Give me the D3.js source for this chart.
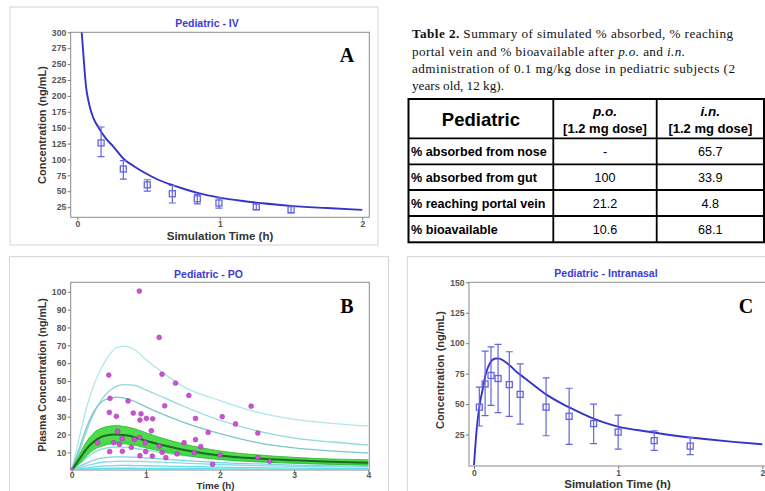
<!DOCTYPE html>
<html><head><meta charset="utf-8">
<script src="https://cdn.jsdelivr.net/npm/d3@7"></script>
<style>html,body{margin:0;padding:0;background:#fff;}svg{display:block}</style>
</head><body>
<svg id="c" width="765" height="491"></svg>
<script>
// ---------- Panel A: Pediatric IV ----------
const ivCurveT = [0.031,0.042,0.061,0.082,0.113,0.15,0.2,0.25,0.33,0.4,0.47,0.55,0.65,0.75,0.85,1.0,1.15,1.3,1.5,1.75,2.0];
const ivCurveV = [300,267,215,188,165,150,133,121,100,89,79.5,70,61,53.5,47,40,35,31,27,23.5,20.7];
const ivObsT = [0.167,0.323,0.491,0.667,0.842,0.994,1.256,1.5];
const ivObsMean = [126,85,60,46,38,31.5,25.5,21];
const ivObsLo = [104.5,69,50,31.5,30,23.5,21,16];
const ivObsHi = [151,98,68,59,45,39.5,30,26];
const ivYTicks = [25,50,75,100,125,150,175,200,225,250,275,300];
const ivXTicks = [0,1,2];

// ---------- Panel B: Pediatric PO ----------
const poTimes = [0,0.1,0.2,0.3,0.45,0.6,0.7,0.85,1.0,1.25,1.5,2.0,2.5,3.0,3.5,4.0];
const poInd1 = [0,18,35,48,61,68.5,69.5,67.5,62,54,47,39,32.5,28.5,26.3,24.8];
const poInd2 = [0,10,22,32,42,47,48,47.5,45,40.5,36,28,22,18,15.8,14.1];
const poInd3 = [0,12,24,33,39.5,41,40.5,38.5,35.5,31,27,20.5,15.5,12.5,10.8,9.6];
const poInd4 = [0,5,10,13.5,15.5,16,15.8,15,13.5,11.5,9.8,7.3,5.8,4.8,4.1,3.6];
const poInd5 = [0,3.5,7,10,12.3,13,12.9,12.3,11.2,9.6,8.2,6.1,4.8,4,3.4,3];
const poInd6 = [0,2,4,5.6,7,7.5,7.5,7.3,6.9,6.2,5.5,4.3,3.5,2.9,2.5,2.2];
const poInd7 = [0,1.2,2.5,3.6,4.6,5,5.1,5,4.8,4.4,4,3.2,2.6,2.2,1.9,1.7];
const poInd8 = [0,0.6,1.3,1.9,2.4,2.6,2.7,2.6,2.5,2.3,2.1,1.7,1.4,1.2,1.0,0.9];
const poInd9 = [0,0.3,0.6,0.8,1.0,1.1,1.1,1.1,1.0,0.95,0.9,0.75,0.6,0.5,0.45,0.4];
const poMean = [0,6,12,16,19.3,20,19.7,18.5,16.5,13.8,11.5,8.3,6.6,5.6,4.8,4.2];
const poUpper = [0,8.5,16,21,24.2,25,24.6,23.2,21,17.6,14.8,10.8,8.6,7.2,6.3,5.8];
const poLower = [0,3.5,8,11.5,14,15,14.8,14,12.5,10.3,8.5,6,4.7,3.9,3.3,2.8];
const poObsT = [0,0.912,1.18,0.5,1.218,1.40,0.517,1.58,0.76,1.254,2.42,0.508,0.602,0.83,0.935,1.007,1.092,0.92,1.67,2.03,2.21,1.074,0.62,2.51,1.84,0.68,0.845,0.917,1.67,0.35,0.566,0.643,0.99,1.515,1.74,1.18,0.804,0.512,0.683,0.998,1.22,1.42,1.654,0.92,1.087,1.27,2.0,2.51,2.67,1.9];
const poObsV = [0,100.4,74.4,53.3,53.8,48.8,40.3,41.9,38.8,36.1,35.9,32.4,30.2,32,31.6,29,28.8,28.1,29,30,25.9,22.1,21.9,20.8,21.2,17.7,17.3,18.4,17.1,15.4,15.4,14.5,15.4,15.4,13.2,13.5,12.8,10.4,10.6,10.4,10,9.1,9.8,8.1,7.9,7,8.5,7,5,3.3];
const poYTicks = [10,20,30,40,50,60,70,80,90,100];
const poXTicks = [0,1,2,3,4];

// ---------- Panel C: Pediatric Intranasal ----------
const inCurveT = [0,0.02,0.04,0.06,0.08,0.1,0.125,0.15,0.175,0.2,0.25,0.3,0.35,0.4,0.5,0.6,0.7,0.8,0.9,1.0,1.2,1.4,1.6,1.8,2.0];
const inCurveV = [0,31,50,62,74,81,86,87.5,87.3,86,81.5,76,71.5,67,58,51,45,39.5,35,31.5,27.5,24,21.3,19,17];
const inObsT = [0.037,0.077,0.118,0.167,0.245,0.32,0.5,0.66,0.83,1.0,1.25,1.5];
const inObsMean = [47.5,66.5,73.5,71,66,58,47.5,40,34,27,20,15.5];
const inObsLo = [32,40.5,49,43,40,33.5,24,17,17.5,13,12,8.5];
const inObsHi = [64,93.5,97,99,93,83,71.5,63,50,41,28,22.5];
const inYTicks = [25,50,75,100,125,150];
const inXTicks = [0,1,2];

// ---------- Table ----------
const tableRowLabels = ["% absorbed from nose","% absorbed from gut","% reaching portal vein","% bioavailable"];
const tablePO = ["-","100","21.2","10.6"];
const tableIN = ["65.7","33.9","4.8","68.1"];

const SANS = "'Liberation Sans', Arial, sans-serif";
const SERIF = "'Liberation Serif', 'Times New Roman', serif";
const svg = d3.select("#c");
svg.append("rect").attr("width",765).attr("height",491).attr("fill","#fff");

const defs = svg.append("defs");

// panel boxes
[[10,7,368,238],[9.5,256.7,379,240],[407.3,256.7,365,240]].forEach(b=>{
  svg.append("rect").attr("x",b[0]).attr("y",b[1]).attr("width",b[2]).attr("height",b[3])
    .attr("fill","#fff").attr("stroke","#d4d4d4").attr("stroke-width",1);
});

function panel(opt){
  const g = svg.append("g");
  const f = opt.frame; // [l,t,r,b]
  const id = "clip"+opt.key;
  defs.append("clipPath").attr("id",id).append("rect")
    .attr("x",f[0]).attr("y",f[1]).attr("width",f[2]-f[0]).attr("height",f[3]-f[1]);
  const x = d3.scaleLinear().domain(opt.xd).range(opt.xr);
  const y = d3.scaleLinear().domain(opt.yd).range(opt.yr);
  g.append("rect").attr("x",f[0]).attr("y",f[1]).attr("width",f[2]-f[0]).attr("height",f[3]-f[1])
    .attr("fill","none").attr("stroke","#8a8a8a").attr("stroke-width",1);
  const ya = g.append("g").attr("transform",`translate(${f[0]},0)`)
    .call(d3.axisLeft(y).tickValues(opt.yt).tickSize(3).tickPadding(1.5).tickFormat(d3.format("d")));
  const xa = g.append("g").attr("transform",`translate(0,${f[3]})`)
    .call(d3.axisBottom(x).tickValues(opt.xt).tickSize(opt.xts||3).tickPadding(opt.xtp!=null?opt.xtp:1).tickFormat(d3.format("d")));
  [ya,xa].forEach(a=>{
    a.select(".domain").remove();
    a.selectAll("line").attr("stroke","#777");
    a.selectAll("text").attr("fill","#555").attr("font-family",SANS).attr("font-size",8.6).attr("font-weight","bold");
  });
  g.append("text").attr("x",opt.title[1]).attr("y",opt.title[2]).attr("text-anchor","middle")
    .attr("font-family",SANS).attr("font-weight","bold").attr("font-size",10.5).attr("fill","#3b3bd8").text(opt.title[0]);
  g.append("text").attr("transform",`translate(${opt.ylab[1]},${opt.ylab[2]}) rotate(-90)`).attr("text-anchor","middle")
    .attr("font-family",SANS).attr("font-weight","bold").attr("font-size",opt.ylab[3]).attr("fill","#333").text(opt.ylab[0]);
  g.append("text").attr("x",opt.xlab[1]).attr("y",opt.xlab[2]).attr("text-anchor","middle")
    .attr("font-family",SANS).attr("font-weight","bold").attr("font-size",opt.xlab[3]).attr("fill","#333").text(opt.xlab[0]);
  g.append("text").attr("x",opt.letter[1]).attr("y",opt.letter[2]).attr("text-anchor","middle")
    .attr("font-family",SERIF).attr("font-weight","bold").attr("font-size",20).attr("fill","#000").text(opt.letter[0]);
  const plot = g.append("g").attr("clip-path",`url(#${id})`);
  return {x,y,plot,g};
}

function errBars(p, T, M, L, Hh, color){
  const grp = p.plot.append("g").attr("stroke",color).attr("fill","none").attr("stroke-width",1.2);
  T.forEach((t,i)=>{
    const cx = p.x(t);
    grp.append("line").attr("x1",cx).attr("x2",cx).attr("y1",p.y(L[i])).attr("y2",p.y(Hh[i]));
    grp.append("line").attr("x1",cx-3.5).attr("x2",cx+3.5).attr("y1",p.y(L[i])).attr("y2",p.y(L[i]));
    grp.append("line").attr("x1",cx-3.5).attr("x2",cx+3.5).attr("y1",p.y(Hh[i])).attr("y2",p.y(Hh[i]));
    grp.append("rect").attr("x",cx-3).attr("y",p.y(M[i])-3).attr("width",6).attr("height",6).attr("stroke-width",1.3);
  });
}

// ----- Panel A -----
const A = panel({key:"A", frame:[70.7,32.3,369.3,217.3], xd:[0,2], xr:[77.3,362.3], yd:[0,300], yr:[223,32.3],
  yt:ivYTicks, xt:ivXTicks, title:["Pediatric - IV",207,27], ylab:["Concentration (ng/mL)",46,125,11],
  xlab:["Simulation Time (h)",220,239.5,11.5], letter:["A",347,61.5]});
A.plot.append("path").datum(ivCurveT.map((t,i)=>[t,ivCurveV[i]]))
  .attr("d",d3.line().x(d=>A.x(d[0])).y(d=>A.y(d[1])).curve(d3.curveMonotoneX))
  .attr("fill","none").attr("stroke","#3434c8").attr("stroke-width",1.9);
errBars(A, ivObsT, ivObsMean, ivObsLo, ivObsHi, "#6464e0");

// ----- Panel B -----
const B = panel({key:"B", frame:[70.7,282.3,369.3,470], xd:[0,4], xr:[71.7,368.3], yd:[0,100], yr:[470.2,291.8],
  yt:poYTicks, xt:poXTicks, xts:2, xtp:0, title:["Pediatric - PO",208.5,277.5], ylab:["Plasma Concentration (ng/mL)",46,375,10.6],
  xlab:["Time (h)",215.5,489,9.8], letter:["B",347,312.5]});
const poLine = d3.line().x((d,i)=>B.x(poTimes[i])).y(d=>B.y(d)).curve(d3.curveMonotoneX);
const indCurves = [poInd1,poInd2,poInd3,poInd4,poInd5,poInd6,poInd7,poInd8,poInd9];
const indColors = ["#aee8e8","#94d8d8","#7cc6c9","#8fd6da","#8ddbe0","#7fd3dd","#84dce8","#6fdbea","#5fdcef"];
indCurves.forEach((c,k)=>{
  B.plot.append("path").datum(c).attr("d",poLine).attr("fill","none").attr("stroke",indColors[k]).attr("stroke-width",1.3);
});
B.plot.append("path").datum(poTimes.map((t,i)=>i))
  .attr("d",d3.area().x(i=>B.x(poTimes[i])).y0(i=>B.y(poLower[i])).y1(i=>B.y(poUpper[i])).curve(d3.curveMonotoneX))
  .attr("fill","#2fd62f").attr("fill-opacity",0.85);
B.plot.append("path").datum(poUpper).attr("d",poLine).attr("fill","none").attr("stroke","#27b827").attr("stroke-width",0.8);
B.plot.append("path").datum(poLower).attr("d",poLine).attr("fill","none").attr("stroke","#27b827").attr("stroke-width",0.8);
B.plot.append("path").datum(poMean).attr("d",poLine).attr("fill","none").attr("stroke","#1f6a1f").attr("stroke-width",2);
B.plot.append("g").selectAll("circle").data(poObsT).join("circle")
  .attr("cx",d=>B.x(d)).attr("cy",(d,i)=>B.y(poObsV[i])).attr("r",2.4)
  .attr("fill","#d24fd6").attr("stroke","#9b3aa6").attr("stroke-width",0.6);

// ----- Panel C -----
const C = panel({key:"C", frame:[469,282.3,767,466], xd:[0,2], xr:[474,762.3], yd:[0,150], yr:[465,282.3],
  yt:inYTicks, xt:inXTicks, title:["Pediatric - Intranasal",606,277], ylab:["Concentration (ng/mL)",443.5,370,11],
  xlab:["Simulation Time (h)",617.5,488,11.5], letter:["C",746,312.5]});
C.plot.append("path").datum(inCurveT.map((t,i)=>[t,inCurveV[i]]))
  .attr("d",d3.line().x(d=>C.x(d[0])).y(d=>C.y(d[1])).curve(d3.curveMonotoneX))
  .attr("fill","none").attr("stroke","#3434c8").attr("stroke-width",1.9);
errBars(C, inObsT, inObsMean, inObsLo, inObsHi, "#6464e0");

// ----- Caption -----
const cap = svg.append("g").attr("font-family",SERIF).attr("font-size",13.2).attr("fill","#111");
const l1 = cap.append("text").attr("x",412).attr("y",38.3).attr("textLength",321).attr("lengthAdjust","spacing");
l1.append("tspan").attr("font-weight","bold").text("Table 2.");
l1.append("tspan").text(" Summary of simulated % absorbed, % reaching");
const l2 = cap.append("text").attr("x",412).attr("y",55.5).attr("textLength",273).attr("lengthAdjust","spacing");
l2.append("tspan").text("portal vein and % bioavailable after ");
l2.append("tspan").attr("font-style","italic").text("p.o.");
l2.append("tspan").text(" and ");
l2.append("tspan").attr("font-style","italic").text("i.n.");
cap.append("text").attr("x",412).attr("y",72.6).attr("textLength",323).attr("lengthAdjust","spacing")
  .text("administration of 0.1 mg/kg dose in pediatric subjects (2");
cap.append("text").attr("x",412).attr("y",89.5).text("years old, 12 kg).");

// ----- Table -----
const tb = svg.append("g");
const colX = [408.5,553.3,656.7,764];
const rowY = [99,138.3,164.3,190,216,242.3];
tb.append("rect").attr("x",colX[0]).attr("y",rowY[0]).attr("width",colX[3]-colX[0]).attr("height",rowY[5]-rowY[0])
  .attr("fill","#fff").attr("stroke","#000").attr("stroke-width",2);
colX.slice(1,3).forEach(cx=>tb.append("line").attr("x1",cx).attr("x2",cx).attr("y1",rowY[0]).attr("y2",rowY[5]).attr("stroke","#000").attr("stroke-width",1.8));
rowY.slice(1,5).forEach(ry=>tb.append("line").attr("x1",colX[0]).attr("x2",colX[3]).attr("y1",ry).attr("y2",ry).attr("stroke","#000").attr("stroke-width",1.8));
tb.append("text").attr("x",(colX[0]+colX[1])/2).attr("y",126).attr("text-anchor","middle")
  .attr("font-family",SANS).attr("font-weight","bold").attr("font-size",18.5).text("Pediatric");
[["p.o.",(colX[1]+colX[2])/2],["i.n.",(colX[2]+colX[3])/2]].forEach(h=>{
  tb.append("text").attr("x",h[1]).attr("y",116).attr("text-anchor","middle").attr("font-family",SANS)
    .attr("font-weight","bold").attr("font-style","italic").attr("font-size",13.5).text(h[0]);
  tb.append("text").attr("x",h[1]).attr("y",132.5).attr("text-anchor","middle").attr("font-family",SANS)
    .attr("font-weight","bold").attr("font-size",13).text("[1.2 mg dose]");
});
tableRowLabels.forEach((lab,i)=>{
  const by = (rowY[i+1]+rowY[i+2])/2 + 4.5;
  tb.append("text").attr("x",411).attr("y",by).attr("font-family",SANS).attr("font-weight","bold").attr("font-size",12.6).text(lab);
  tb.append("text").attr("x",(colX[1]+colX[2])/2).attr("y",by).attr("text-anchor","middle").attr("font-family",SANS).attr("font-size",12.6).text(tablePO[i]);
  tb.append("text").attr("x",(colX[2]+colX[3])/2).attr("y",by).attr("text-anchor","middle").attr("font-family",SANS).attr("font-size",12.6).text(tableIN[i]);
});
</script>
</body></html>
